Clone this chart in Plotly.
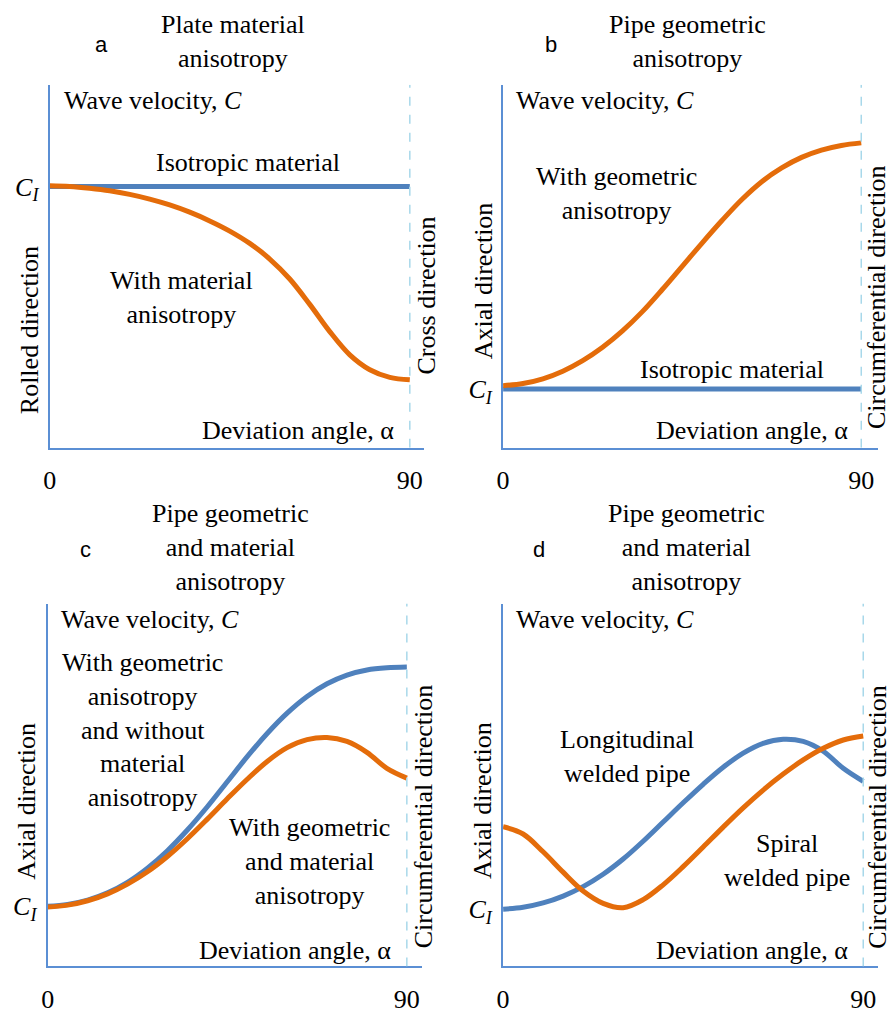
import plotly.graph_objects as go

W, H = 893, 1014
SERIF = "Liberation Serif"
SANS = "Liberation Sans"
BLUE = "#4f81bd"
ORANGE = "#e46c0a"
AXIS = "#5b8fd4"
DASH = "#a8d8ea"

# ---------------- data (schematic values, y in % of axis height) ----------------
ang5 = [0, 5, 10, 15, 20, 25, 30, 35, 40, 45, 50, 55, 60, 65, 70, 75, 80, 85, 90]

a_iso_x = [0, 90]
a_iso_y = [72, 72]
a_aniso_y = [72.2, 72.0, 71.5, 70.8, 69.8, 68.5, 66.9, 64.9, 62.5, 59.7, 56.3, 52.0,
             46.5, 39.5, 32.0, 25.6, 21.5, 19.4, 18.7]

b_iso_x = [0, 90]
b_iso_y = [16.2, 16.2]
b_geo_y = [17.1, 17.7, 19.0, 21.1, 24.0, 27.7, 32.2, 37.5, 43.6, 50.0, 56.4, 62.6,
           68.4, 73.3, 77.1, 80.0, 82.0, 83.3, 84.0]

c_geo_y = [16.6, 17.1, 18.3, 20.3, 23.2, 27.1, 31.9, 37.6, 44.0, 50.9, 57.8, 64.2,
           69.8, 74.4, 77.9, 80.3, 81.7, 82.3, 82.5]
c_geomat_y = [16.4, 16.9, 18.1, 20.0, 22.7, 26.1, 30.3, 35.2, 40.6, 46.2, 51.6, 56.5,
              60.3, 62.5, 63.1, 62.0, 59.0, 54.6, 51.9]

d_long_y = [15.8, 16.3, 17.5, 19.4, 22.0, 25.4, 29.6, 34.5, 39.8, 45.1, 50.2, 54.9,
            58.8, 61.5, 62.6, 62.0, 59.3, 54.6, 51.0]
d_spiral_y = [38.5, 36.5, 31.6, 26.0, 20.8, 17.4, 16.2, 18.4, 22.5, 27.5, 32.9, 38.4,
              43.7, 48.6, 53.0, 56.9, 60.1, 62.4, 63.5]

x_ticks = [0, 90]
x_ticktext = ["0", "90"]
ci_label = "<i>C<sub>I</sub></i>"

# ---------------- layout geometry (pixels) ----------------
panels = {
    # name: (x_left, x_right, x90, y_top, y_bottom)
    "a": (43, 420, 406, 86, 454),
    "b": (500, 878, 861, 86, 454),
    "c": (41, 418, 403, 612, 980),
    "d": (500, 878, 863, 612, 980),
}

fig = go.Figure()

def add_line(panel_idx, xs, ys, color):
    sfx = "" if panel_idx == 1 else str(panel_idx)
    fig.add_trace(go.Scatter(
        x=xs, y=ys, mode="lines",
        line=dict(color=color, width=5, shape="spline", smoothing=1.0),
        xaxis="x" + sfx, yaxis="y" + sfx, showlegend=False, hoverinfo="skip"))

add_line(1, a_iso_x, a_iso_y, BLUE)
add_line(1, ang5, a_aniso_y, ORANGE)
add_line(2, b_iso_x, b_iso_y, BLUE)
add_line(2, ang5, b_geo_y, ORANGE)
add_line(3, ang5, c_geo_y, BLUE)
add_line(3, ang5, c_geomat_y, ORANGE)
add_line(4, ang5, d_long_y, BLUE)
add_line(4, ang5, d_spiral_y, ORANGE)

ci_vals = [a_iso_y[0], b_iso_y[0], c_geo_y[0], d_long_y[0]]

FS = 26
layout = dict(width=W, height=H, margin=dict(l=0, r=0, t=0, b=0),
              paper_bgcolor="white", plot_bgcolor="white", showlegend=False)
shapes = []
for i, key in enumerate(["a", "b", "c", "d"], start=1):
    xl, xr, x90, yt, yb = panels[key]
    sfx = "" if i == 1 else str(i)
    xmax = (xr - xl) / (x90 - xl) * 90
    layout["xaxis" + sfx] = dict(
        domain=[xl / W, xr / W], range=[0, xmax], anchor="y" + sfx,
        showgrid=False, zeroline=False, showline=True, linecolor=AXIS, linewidth=2,
        tickvals=x_ticks, ticktext=x_ticktext, ticks="", ticklabelstandoff=8,
        tickfont=dict(family=SERIF, size=FS, color="black"), fixedrange=True)
    layout["yaxis" + sfx] = dict(
        domain=[1 - yb / H, 1 - yt / H], range=[0, 100], anchor="x" + sfx,
        showgrid=False, zeroline=False, showline=True, linecolor=AXIS, linewidth=2,
        tickvals=[ci_vals[i - 1]], ticktext=[ci_label], ticks="", ticklabelstandoff=4,
        tickfont=dict(family=SERIF, size=FS, color="black"), fixedrange=True)
    shapes.append(dict(type="line", xref="x" + sfx, yref="y" + sfx,
                       x0=90, x1=90, y0=0, y1=100,
                       line=dict(color=DASH, width=1.5, dash="dash")))
layout["shapes"] = shapes

def ann(text, px, py, xanchor="center", yanchor="middle", angle=0, size=FS, family=SERIF):
    return dict(text=text, x=px / W, y=1 - py / H, xref="paper", yref="paper",
                showarrow=False, xanchor=xanchor, yanchor=yanchor, textangle=angle,
                align="center", font=dict(family=family, size=size, color="black"))

anns = [
    # panel letters
    ann("a", 95, 45, family=SANS, size=22),
    ann("b", 548, 45, family=SANS, size=22),
    ann("c", 79, 557, family=SANS, size=22),
    ann("d", 536, 557, family=SANS, size=22),
    # titles
    ann("Plate material<br>anisotropy", 228, 42),
    ann("Pipe geometric<br>anisotropy", 686, 42),
    ann("Pipe geometric<br>and material<br>anisotropy", 225, 555),
    ann("Pipe geometric<br>and material<br>anisotropy", 685, 555),
    # y-axis names
    ann("Wave velocity, <i>C</i>", 55, 102, xanchor="left"),
    ann("Wave velocity, <i>C</i>", 511, 102, xanchor="left"),
    ann("Wave velocity, <i>C</i>", 52, 628, xanchor="left"),
    ann("Wave velocity, <i>C</i>", 511, 628, xanchor="left"),
    # x-axis names
    ann("Deviation angle, α", 392, 437, xanchor="right"),
    ann("Deviation angle, α", 850, 437, xanchor="right"),
    ann("Deviation angle, α", 389, 964, xanchor="right"),
    ann("Deviation angle, α", 850, 964, xanchor="right"),
    # curve labels
    ann("Isotropic material", 243, 165),
    ann("With material<br>anisotropy", 176, 302),
    ann("With geometric<br>anisotropy", 614, 196),
    ann("Isotropic material", 731, 375),
    ann("With geometric<br>anisotropy<br>and without<br>material<br>anisotropy", 137, 740),
    ann("With geometric<br>and material<br>anisotropy", 305, 874),
    ann("Longitudinal<br>welded pipe", 625, 767),
    ann("Spiral<br>welded pipe", 786, 873),
    # direction labels
    ann("Rolled direction", 23, 335, angle=-90),
    ann("Cross direction", 423, 300, angle=-90),
    ann("Axial direction", 480, 285, angle=-90),
    ann("Circumferential direction", 877, 301, angle=-90),
    ann("Axial direction", 20, 812, angle=-90),
    ann("Circumferential direction", 420, 828, angle=-90),
    ann("Axial direction", 480, 812, angle=-90),
    ann("Circumferential direction", 877, 828, angle=-90),
]
layout["annotations"] = anns
fig.update_layout(**layout)
fig.write_html("out.html", config={"displayModeBar": False},
               post_script="document.body.style.margin='0';document.body.style.overflow='hidden';")
